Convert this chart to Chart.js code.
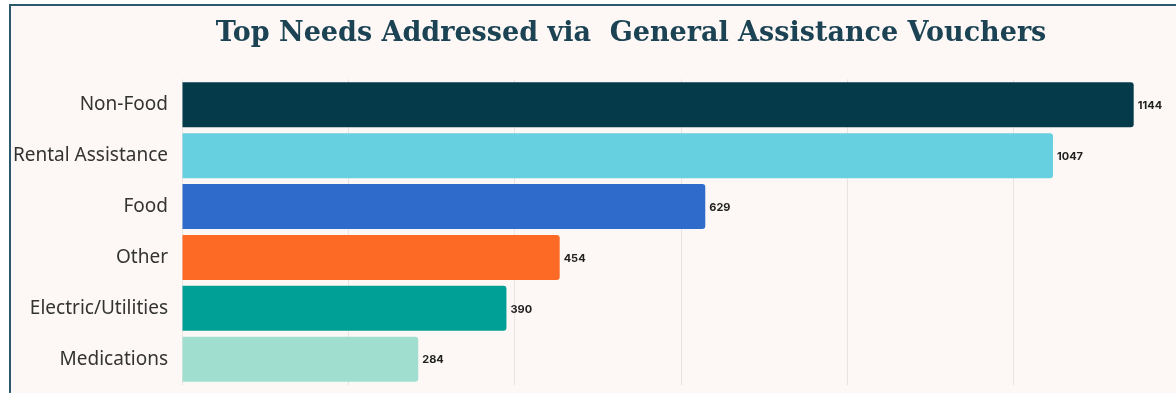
<!DOCTYPE html>
<html>
<head>
<meta charset="utf-8">
<script src="https://cdn.jsdelivr.net/npm/chart.js@4.4.1/dist/chart.umd.min.js"></script>
<style>
  html, body { margin: 0; padding: 0; background: #ffffff; overflow: hidden; }
  #frame {
    position: absolute; left: 9px; top: 4px;
    width: 1240px; height: 404px;
    border: 2px solid #2b5a6e;
    background: #fdf8f5;
  }
  #wrap { position: relative; width: 1240px; height: 404px; }
</style>
</head>
<body>
<div id="frame"><div id="wrap"><canvas id="c"></canvas></div></div>
<script>
const categories = ["Non-Food", "Rental Assistance", "Food", "Other", "Electric/Utilities", "Medications"];
const values = [1144, 1047, 629, 454, 390, 284];
const barColors = ["#053a4b", "#66cfe0", "#2f6bcb", "#fd6a26", "#00a096", "#a0dfd0"];
const titleText = "Top Needs Addressed via  General Assistance Vouchers";

const valueLabels = {
  id: 'valueLabels',
  afterDatasetsDraw(chart) {
    const ctx = chart.ctx;
    const meta = chart.getDatasetMeta(0);
    ctx.save();
    ctx.font = '700 11px Inter, "DejaVu Sans", sans-serif';
    ctx.fillStyle = '#222222';
    ctx.textAlign = 'left';
    ctx.textBaseline = 'middle';
    meta.data.forEach((bar, i) => {
      ctx.fillText(String(values[i]), bar.x + 4, bar.y + 1);
    });
    ctx.restore();
  }
};

new Chart(document.getElementById('c'), {
  type: 'bar',
  data: {
    labels: categories,
    datasets: [{
      data: values,
      backgroundColor: barColors,
      borderRadius: 3,
      borderSkipped: 'start',
      categoryPercentage: 1.0,
      barPercentage: 0.885
    }]
  },
  options: {
    indexAxis: 'y',
    responsive: true,
    maintainAspectRatio: false,
    animation: false,
    layout: { padding: { top: 0, bottom: 0, left: 0, right: 0 } },
    plugins: {
      legend: { display: false },
      tooltip: { enabled: false },
      title: {
        display: true,
        text: titleText,
        color: '#1b4354',
        font: { family: '"DejaVu Serif", serif', size: 27, weight: 'bold' },
        padding: { top: 12, bottom: 29 }
      }
    },
    scales: {
      x: {
        min: 0,
        max: 1285,
        ticks: { display: false, stepSize: 200 },
        grid: { color: '#e9e4e1', lineWidth: 1, drawTicks: false },
        border: { display: false }
      },
      y: {
        afterFit(scale) { scale.width = 171; },
        ticks: {
          color: '#333333',
          padding: 14,
          font: { family: '"Noto Sans", sans-serif', size: 19 }
        },
        grid: { display: false, drawTicks: false },
        border: { display: false }
      }
    }
  },
  plugins: [valueLabels]
});
</script>
</body>
</html>
